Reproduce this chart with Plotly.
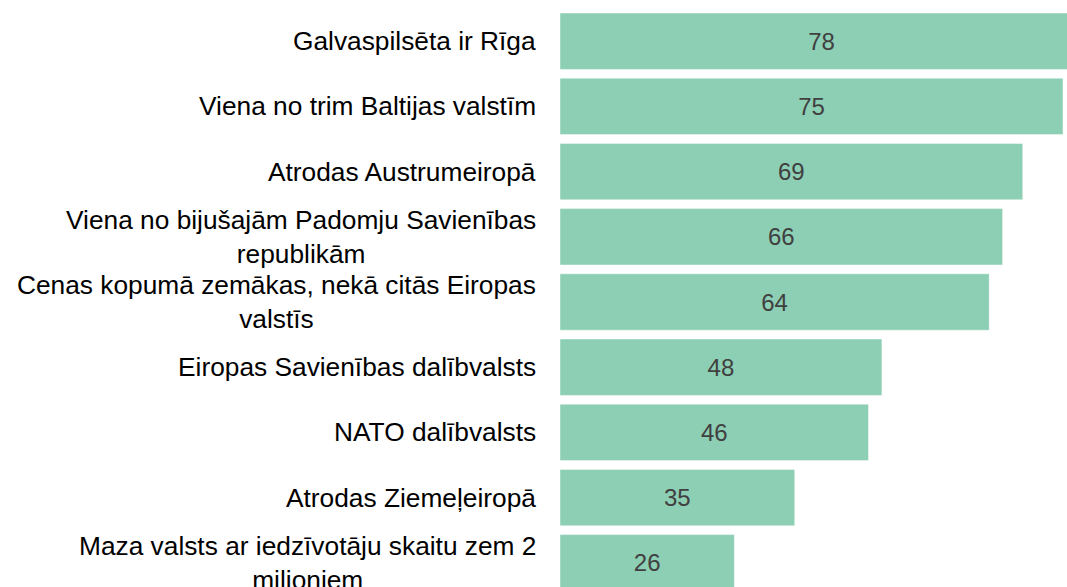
import plotly.graph_objects as go

# Data
categories = [
    "Galvaspilsēta ir Rīga",
    "Viena no trim Baltijas valstīm",
    "Atrodas Austrumeiropā",
    "Viena no bijušajām Padomju Savienības<br>republikām",
    "Cenas kopumā zemākas, nekā citās Eiropas<br>valstīs",
    "Eiropas Savienības dalībvalsts",
    "NATO dalībvalsts",
    "Atrodas Ziemeļeiropā",
    "Maza valsts ar iedzīvotāju skaitu zem 2<br>milioniem",
]
values = [78, 75, 69, 66, 64, 48, 46, 35, 26]

bar_color = "#8dcfb4"
font_family = "Liberation Sans, Arial, sans-serif"

fig = go.Figure()
fig.add_trace(go.Bar(
    x=values,
    y=list(range(len(categories))),
    orientation="h",
    marker=dict(color=bar_color, line=dict(color="rgba(255,255,255,0.45)", width=1)),
    text=values,
    textposition="inside",
    insidetextanchor="middle",
    textfont=dict(family=font_family, size=24, color="#404040"),
    hoverinfo="skip",
))

# category labels, centred lines, right-aligned block
for i, label in enumerate(categories):
    fig.add_annotation(
        x=0, xref="paper", xanchor="right", xshift=-22,
        y=i, yref="y", yanchor="middle",
        text=label, align="center", showarrow=False,
        font=dict(family=font_family, size=26.3, color="#000000"),
    )

fig.update_layout(
    width=1067, height=587,
    margin=dict(l=560, r=0, t=0, b=0),
    paper_bgcolor="white", plot_bgcolor="white",
    bargap=0.135,
    showlegend=False,
    font=dict(family=font_family),
)
fig.update_xaxes(range=[0, 75.6], visible=False, showgrid=False, zeroline=False)
fig.update_yaxes(range=[8.371, -0.632], visible=False, showgrid=False, zeroline=False)

# drop the default page margin so the figure fills the window
fig.write_html("out.html", config={"displayModeBar": False},
               post_script="document.body.style.margin='0';document.body.style.overflow='hidden';")
